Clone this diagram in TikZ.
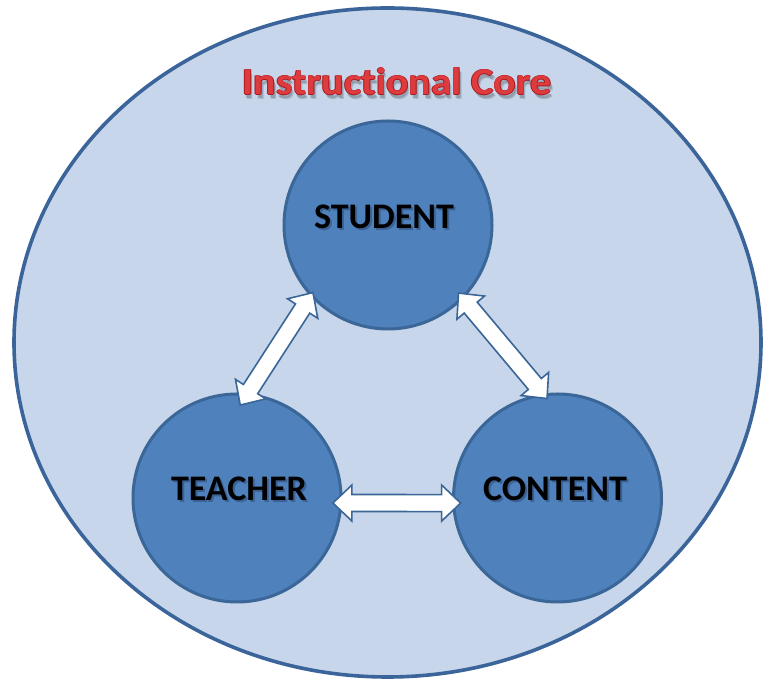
\documentclass[tikz,border=0pt]{standalone}
\usepackage{fontspec}
\setmainfont{Carlito}[Ligatures=NoCommon]
\usetikzlibrary{calc,shapes.geometric}

\definecolor{coreFill}{HTML}{C7D6EA}
\definecolor{coreLine}{HTML}{3A649A}
\definecolor{roleFill}{HTML}{4F81BD}
\definecolor{roleLine}{HTML}{3A6698}
\definecolor{titleRed}{HTML}{DE3B3E}
\definecolor{titleEdge}{HTML}{A8191E}
\definecolor{labelShade}{HTML}{1D3557}

% dimensions of the white two-headed block arrows
\newcommand\ahlen{19pt}
\newcommand\ahwid{18pt}
\newcommand\ashaft{8.5pt}

% two-headed block arrow between two named points
\newcommand\linkarrow[2]{%
  \coordinate (la-a) at ($(#1)!\ahlen!(#2)$);
  \coordinate (la-b) at ($(#2)!\ahlen!(#1)$);
  \draw[linkshape] (#1)
    -- ($(la-a)!\ahwid!90:(#2)$) -- ($(la-a)!\ashaft!90:(#2)$)
    -- ($(la-b)!\ashaft!-90:(#1)$) -- ($(la-b)!\ahwid!-90:(#1)$)
    -- (#2)
    -- ($(la-b)!\ahwid!90:(#1)$) -- ($(la-b)!\ashaft!90:(#1)$)
    -- ($(la-a)!\ashaft!-90:(#2)$) -- ($(la-a)!\ahwid!-90:(#2)$)
    -- cycle;}

\tikzset{
  corebox/.style={ellipse, draw=coreLine, line width=3.6pt, fill=coreFill,
    minimum width=747pt, minimum height=669pt, inner sep=0pt},
  role/.style={circle, draw=roleLine, line width=3pt, fill=roleFill,
    minimum size=208pt, inner sep=0pt},
  rolelabel/.style={font=\bfseries\fontsize{36}{40}\selectfont, text=black, inner sep=0pt},
  roleshade/.style={rolelabel, text=labelShade, opacity=0.4},
  titletext/.style={font=\bfseries\fontsize{38}{44}\selectfont, inner sep=0pt, anchor=base},
  linkshape/.style={draw=roleLine, line width=1.6pt, fill=white, line join=miter},
}

\begin{document}
\begin{tikzpicture}[x=1pt,y=1pt]
  \useasboundingbox (0,0) rectangle (763,682);
  \fill[white] (0,0) rectangle (763,682);

  % outer ellipse
  \node[corebox] (core) at (387.5,339.5) {};

  % title with soft shadow and darker rim
  \foreach \dx/\dy/\op in {1.5/-3.5/0.15, 2.5/-5/0.13}
    \node[titletext, text=black, opacity=\op] at (397+\dx,587+\dy)
      {\scalebox{1.1}[1]{Instructional Core}};
  \foreach \dx/\dy in {0.7/0, -0.7/0, 0/0.7, 0/-0.7}
    \node[titletext, text=titleEdge] at (397+\dx,587+\dy)
      {\scalebox{1.1}[1]{Instructional Core}};
  \node[titletext, text=titleRed] (title) at (397,587)
    {\scalebox{1.1}[1]{Instructional Core}};

  % the three roles
  \node[role] (student) at (388,457) {};
  \node[role] (teacher) at (237,184) {};
  \node[role] (content) at (557.5,184) {};

  \node[roleshade] at (386,463) {STUDENT};
  \node[rolelabel] (studentlabel) at (384,465) {STUDENT};
  \node[roleshade] at (241,191) {TEACHER};
  \node[rolelabel] (teacherlabel) at (239,193) {TEACHER};
  \node[roleshade] at (557,191) {CONTENT};
  \node[rolelabel] (contentlabel) at (555,193) {CONTENT};

  % arrow end points, just inside the circles
  \coordinate (st-top)   at ($(student.center)+(222:101)$);
  \coordinate (st-bot)   at ($(teacher.center)+(88:93)$);
  \coordinate (sc-top)   at ($(student.center)+(-44:98)$);
  \coordinate (sc-bot)   at ($(content.center)+(96:100)$);
  \coordinate (tc-left)  at ($(teacher.center)+(-3:96)$);
  \coordinate (tc-right) at ($(content.center)+(183:97)$);

  \linkarrow{st-top}{st-bot}
  \linkarrow{sc-top}{sc-bot}
  \linkarrow{tc-left}{tc-right}
\end{tikzpicture}
\end{document}
